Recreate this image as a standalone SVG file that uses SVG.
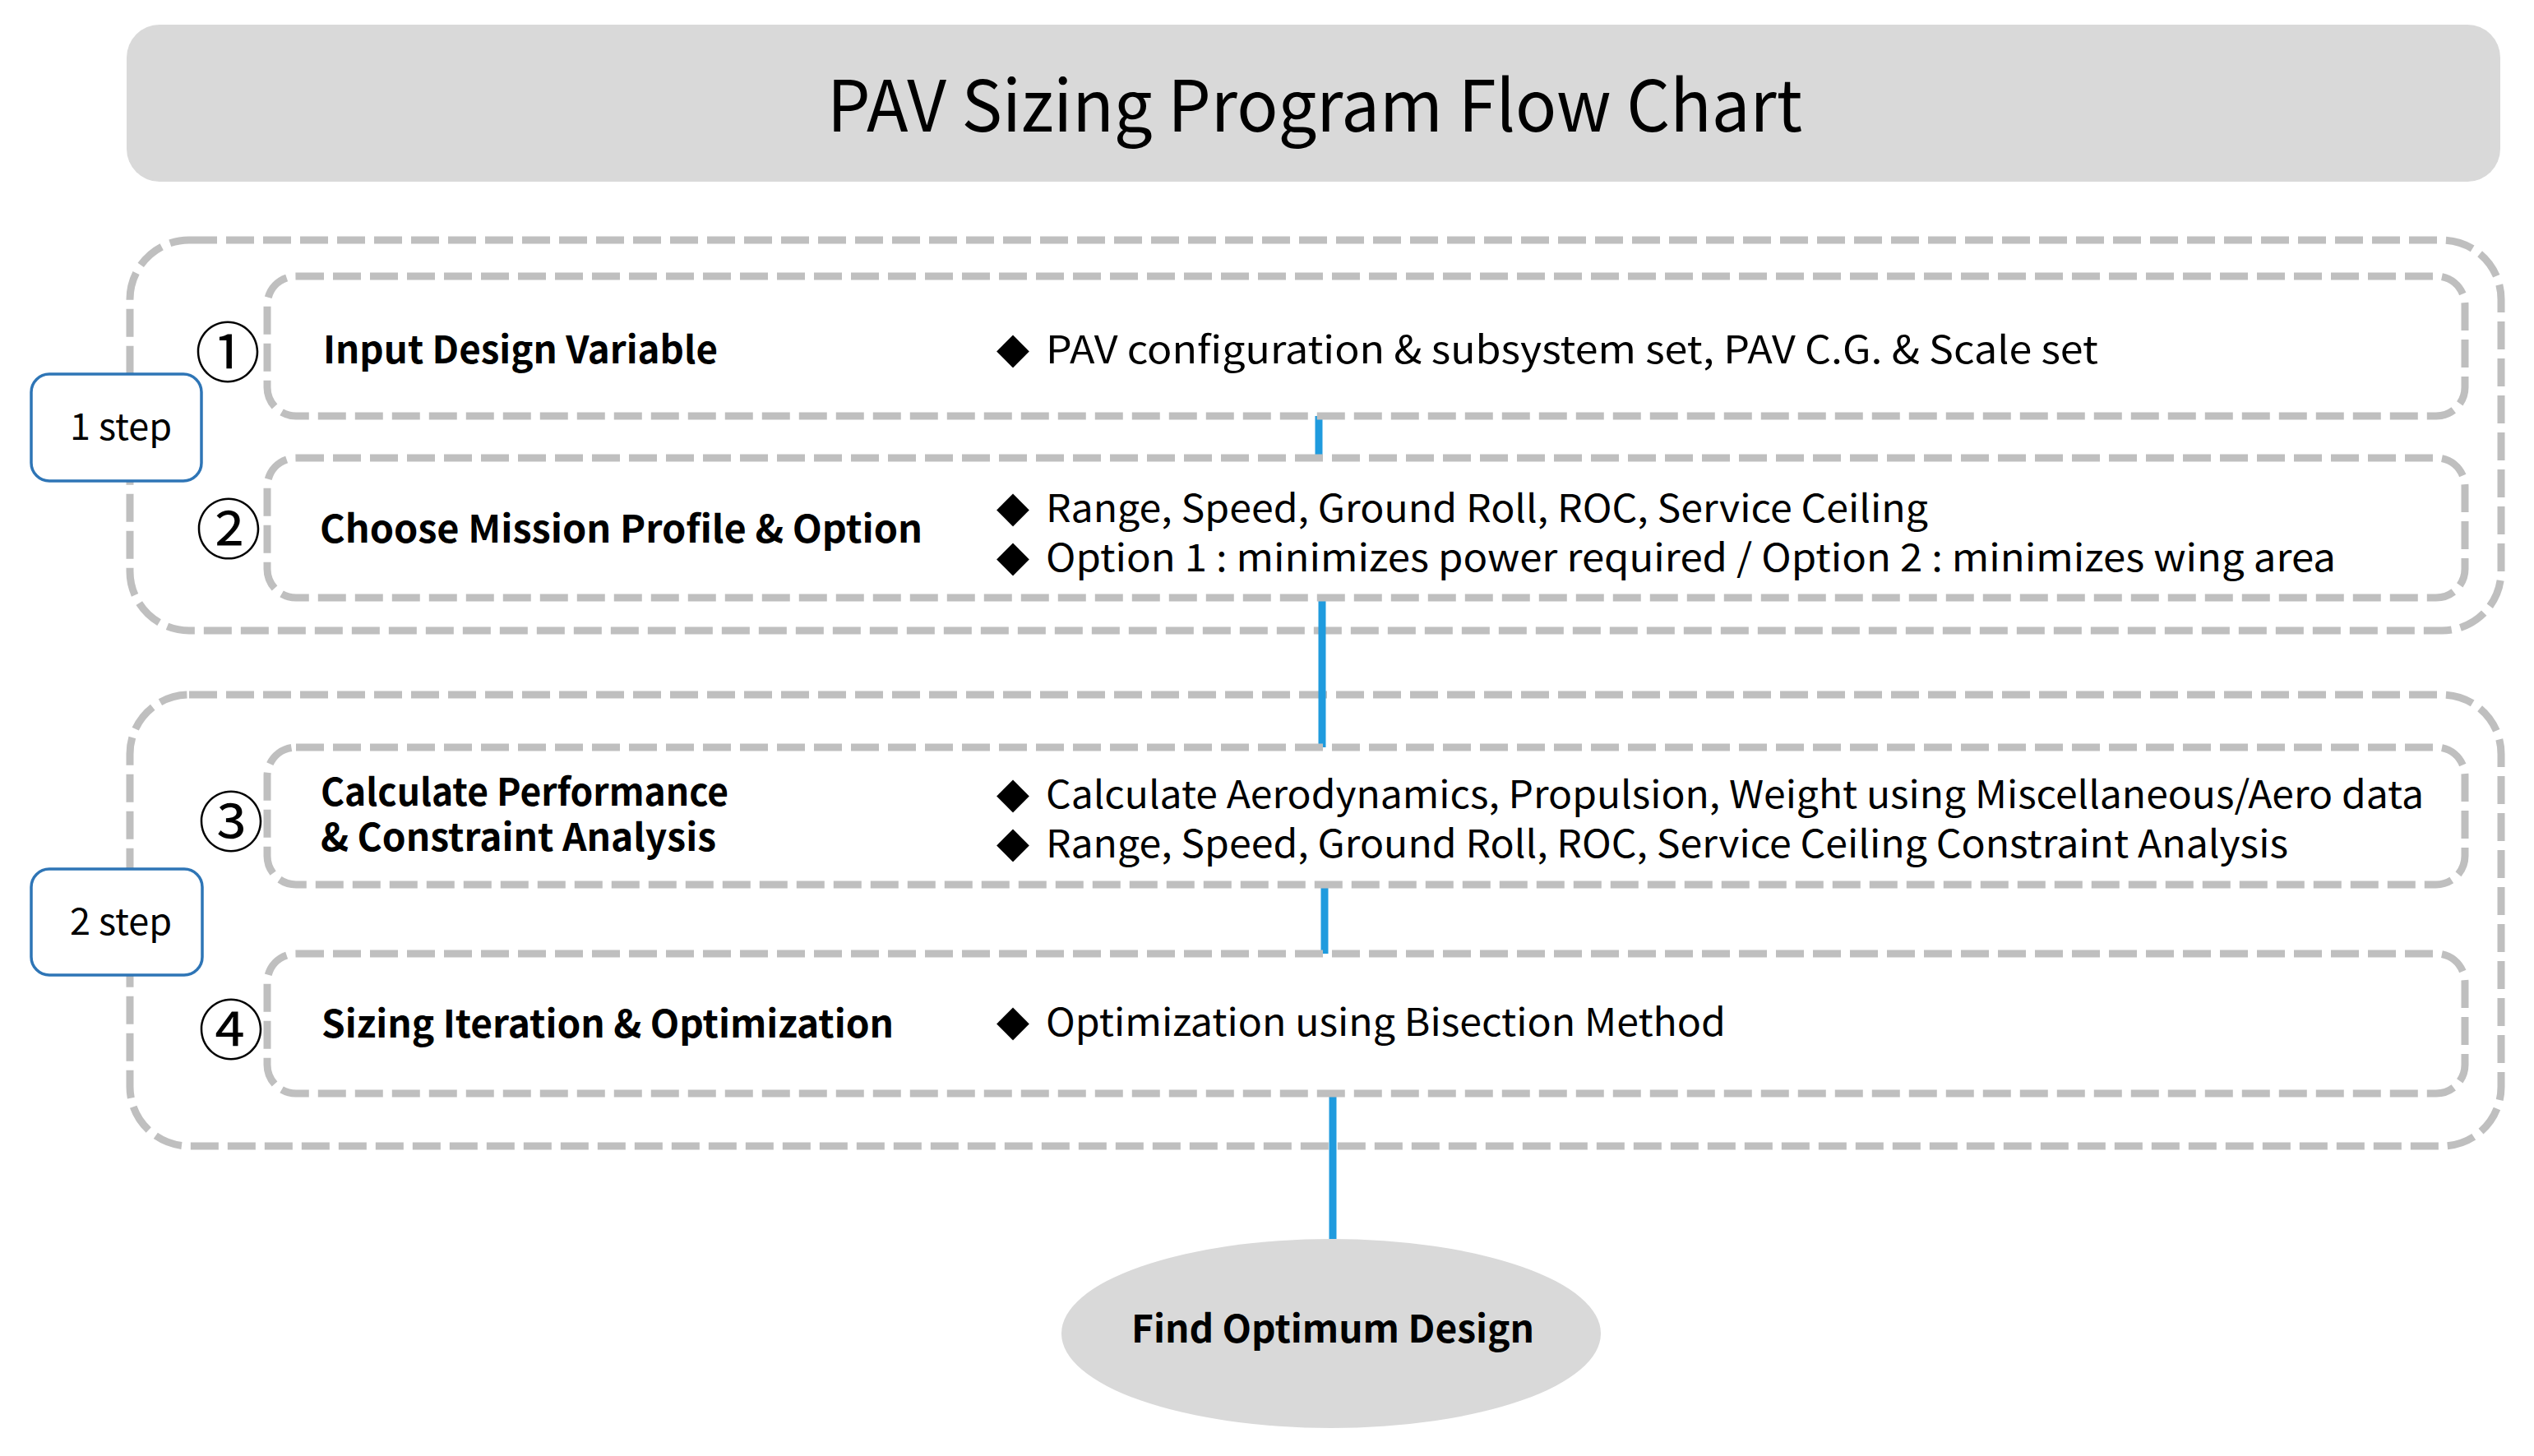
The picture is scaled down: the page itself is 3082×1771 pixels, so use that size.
<svg xmlns="http://www.w3.org/2000/svg" width="3082" height="1771" viewBox="0 0 3082 1771">
<style>
.dash{fill:none;stroke:#bfbfbf;stroke-width:9;stroke-dasharray:34 11}
.step{fill:#ffffff;stroke:#2e75b6;stroke-width:3.5}
.conn{stroke:#1f9bde;stroke-width:9;fill:none}
.t{font-family:"Noto Sans CJK KR","Noto Sans",sans-serif;fill:#000}
.lbl{font-weight:bold;font-size:46px}
.bul{font-size:46px}
.dia{font-family:"DejaVu Sans",sans-serif;font-size:52px;fill:#000}
.num{font-family:"Noto Sans CJK KR",sans-serif;font-size:80px;fill:#000;text-anchor:middle}
.stxt{font-size:45px;text-anchor:middle}
</style>
<rect width="3082" height="1771" fill="#ffffff"/>
<g id="title">
<rect x="154" y="30" width="2887" height="191" rx="40" fill="#d9d9d9"/>
<text class="t" x="1006" y="160" font-size="86" textLength="1186" lengthAdjust="spacingAndGlyphs">PAV Sizing Program Flow Chart</text>
</g>
<g id="group-step1">
<rect class="dash" x="158" y="292" width="2884" height="475" rx="72"/>
</g>
<g id="group-step2">
<rect class="dash" x="158" y="845" width="2884" height="549" rx="72"/>
</g>
<g id="connectors">
<line class="conn" x1="1604" y1="506" x2="1604" y2="557"/>
<line class="conn" x1="1608" y1="727" x2="1608" y2="909"/>
<line class="conn" x1="1611" y1="1076" x2="1611" y2="1160"/>
<line class="conn" x1="1621" y1="1330" x2="1621" y2="1507"/>
</g>
<g id="step1-label">
<rect class="step" x="38" y="455" width="207" height="130" rx="22"/>
<text class="t stxt" x="147" y="535">1 step</text>
</g>
<g id="step2-label">
<rect class="step" x="38" y="1057" width="208" height="129" rx="22"/>
<text class="t stxt" x="147" y="1137">2 step</text>
</g>
<g id="node1">
<rect class="dash" x="325" y="336" width="2673" height="170" rx="35"/>
<text class="num" x="277" y="458">①</text>
<text class="t lbl" x="393" y="442" textLength="480" lengthAdjust="spacingAndGlyphs">Input Design Variable</text>
<text class="dia" x="1212" y="441">◆</text>
<text class="t bul" x="1272" y="442" textLength="1280" lengthAdjust="spacingAndGlyphs">PAV configuration &amp; subsystem set, PAV C.G. &amp; Scale set</text>
</g>
<g id="node2">
<rect class="dash" x="325" y="557" width="2673" height="170" rx="35"/>
<text class="num" x="278" y="673">②</text>
<text class="t lbl" x="389" y="660" textLength="733" lengthAdjust="spacingAndGlyphs">Choose Mission Profile &amp; Option</text>
<text class="dia" x="1212" y="634">◆</text>
<text class="t bul" x="1272" y="635" textLength="1073" lengthAdjust="spacingAndGlyphs">Range, Speed, Ground Roll, ROC, Service Ceiling</text>
<text class="dia" x="1212" y="694">◆</text>
<text class="t bul" x="1272" y="695" textLength="1569" lengthAdjust="spacingAndGlyphs">Option 1 : minimizes power required / Option 2 : minimizes wing area</text>
</g>
<g id="node3">
<rect class="dash" x="325" y="909" width="2673" height="167" rx="35"/>
<text class="num" x="281" y="1029">③</text>
<text class="t lbl"><tspan x="390" y="980" textLength="496" lengthAdjust="spacingAndGlyphs">Calculate Performance</tspan><tspan x="390" y="1035" textLength="481" lengthAdjust="spacingAndGlyphs">&amp; Constraint Analysis</tspan></text>
<text class="dia" x="1212" y="982">◆</text>
<text class="t bul" x="1272" y="983" textLength="1676" lengthAdjust="spacingAndGlyphs">Calculate Aerodynamics, Propulsion, Weight using Miscellaneous/Aero data</text>
<text class="dia" x="1212" y="1042">◆</text>
<text class="t bul" x="1272" y="1043" textLength="1511" lengthAdjust="spacingAndGlyphs">Range, Speed, Ground Roll, ROC, Service Ceiling Constraint Analysis</text>
</g>
<g id="node4">
<rect class="dash" x="325" y="1160" width="2673" height="170" rx="35"/>
<text class="num" x="281" y="1282">④</text>
<text class="t lbl" x="391" y="1262" textLength="696" lengthAdjust="spacingAndGlyphs">Sizing Iteration &amp; Optimization</text>
<text class="dia" x="1212" y="1259">◆</text>
<text class="t bul" x="1272" y="1260" textLength="827" lengthAdjust="spacingAndGlyphs">Optimization using Bisection Method</text>
</g>
<g id="result">
<ellipse cx="1619" cy="1622" rx="328" ry="115" fill="#d9d9d9"/>
<text class="t lbl" x="1376" y="1633" textLength="490" lengthAdjust="spacingAndGlyphs">Find Optimum Design</text>
</g>
</svg>
